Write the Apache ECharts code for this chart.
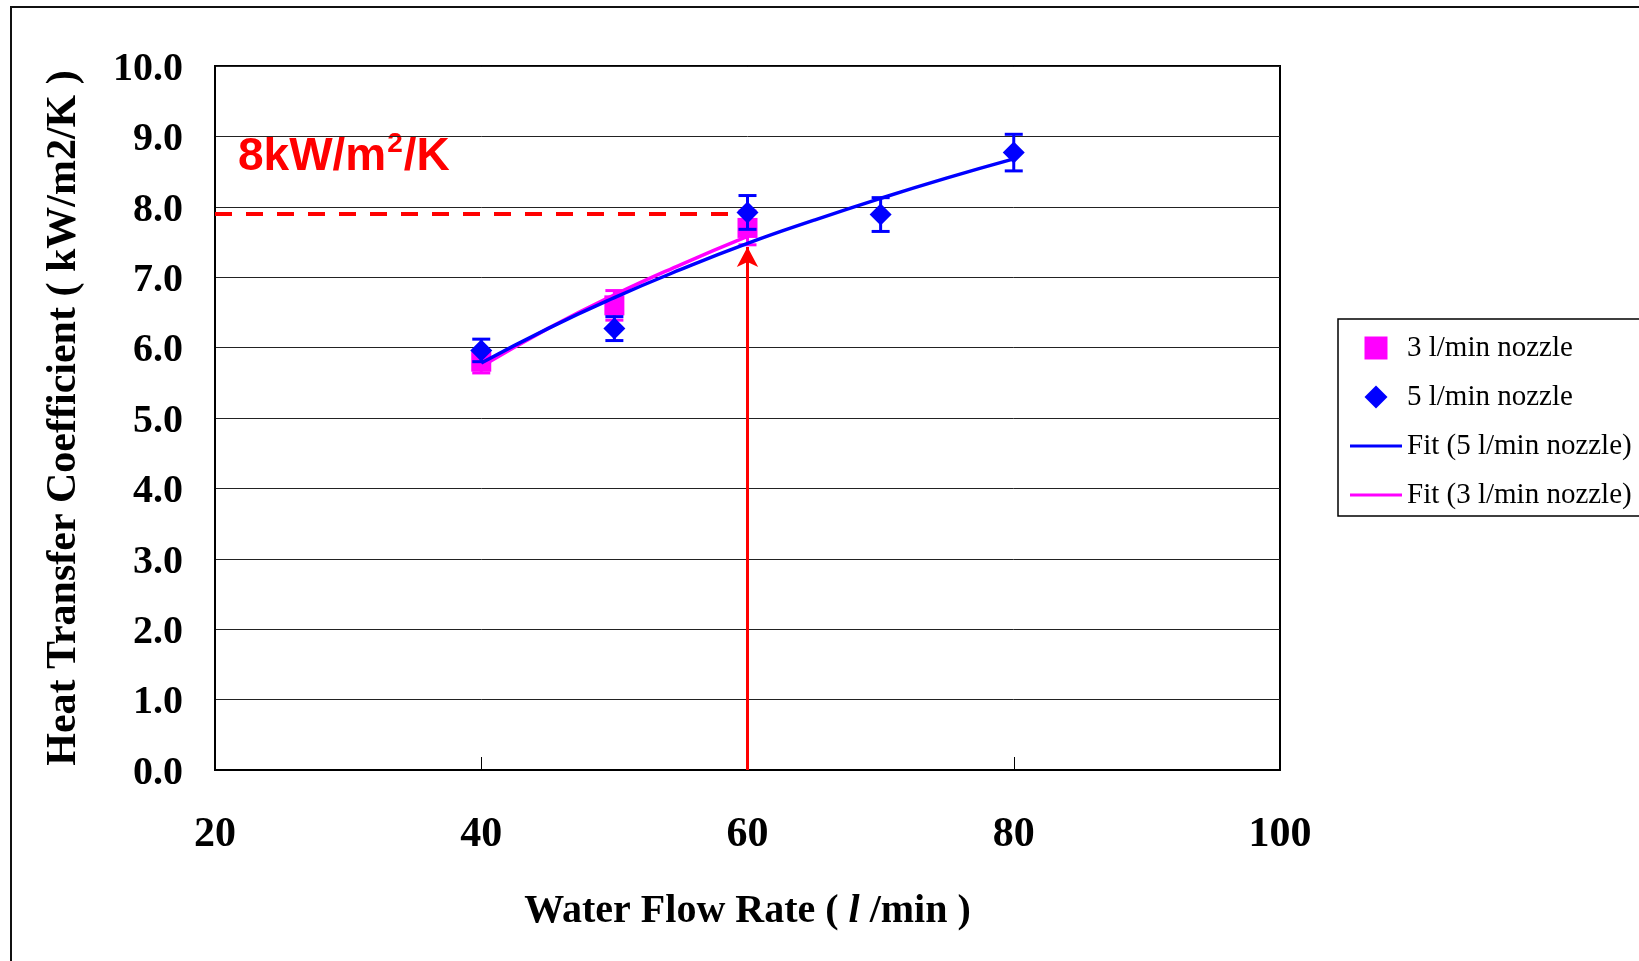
<!DOCTYPE html>
<html>
<head>
<meta charset="utf-8">
<title>Heat Transfer Coefficient vs Water Flow Rate</title>
<script src="https://cdn.jsdelivr.net/npm/echarts@6/dist/echarts.min.js"></script>
<style>
  html, body { margin: 0; padding: 0; background: #fff; }
  #chart { width: 1639px; height: 961px; }
</style>
</head>
<body>
<div id="chart"></div>
<script>
// measured points (kW/m2/K) with error bar half-heights
const flow3 = [40, 50, 60];
const htc3 = [5.80, 6.60, 7.70];
const err3 = [0.16, 0.21, 0.24];

const flow5 = [40, 50, 60, 70, 80];
const htc5 = [5.96, 6.27, 7.92, 7.89, 8.77];
const err5 = [0.16, 0.17, 0.24, 0.24, 0.26];

// fitted curves
const fitFlow5 = [40, 45, 50, 55, 60, 65, 70, 75, 80];
const fitHtc5 = [5.78, 6.27, 6.71, 7.11, 7.48, 7.81, 8.12, 8.41, 8.68];
const fitFlow3 = [40, 45, 50, 55, 60];
const fitHtc3 = [5.73, 6.27, 6.75, 7.18, 7.58];

// 8 kW/m2/K target marker
const targetHtc = 7.9;
const targetFlow = 60;
const dashEndFlow = 59;
const arrowTipHtc = 7.43;

const xTicks = [20, 40, 60, 80, 100];

const MAGENTA = '#ff00ff';
const BLUE = '#0000ff';
const RED = '#ff0000';
const SERIF = '"Liberation Serif", "Times New Roman", serif';
const SANS = '"Liberation Sans", Arial, sans-serif';

const chart = echarts.init(document.getElementById('chart'));

const errorBars = (color) => (params, api) => {
  const x = api.value(0);
  const y = api.value(1);
  const e = api.value(2);
  const top = api.coord([x, y + e]);
  const bot = api.coord([x, y - e]);
  const half = 9;
  const style = { stroke: color, lineWidth: 3 };
  return {
    type: 'group',
    children: [
      { type: 'line', shape: { x1: top[0], y1: top[1], x2: bot[0], y2: bot[1] }, style },
      { type: 'line', shape: { x1: top[0] - half, y1: top[1], x2: top[0] + half, y2: top[1] }, style },
      { type: 'line', shape: { x1: bot[0] - half, y1: bot[1], x2: bot[0] + half, y2: bot[1] }, style }
    ]
  };
};

// legend icons as paths so they keep their aspect
const lineIcon = 'path://M0,0L50,0L50,3L0,3Z';
const squareIcon = 'path://M2,2L20,2L20,20L2,20Z';
const diamondIcon = 'path://M11,0L22,11L11,22L0,11Z';

const option = {
  backgroundColor: '#fff',
  animation: false,
  grid: {
    left: 215,
    top: 66,
    right: 359,
    bottom: 191,
    show: true,
    borderColor: '#000',
    borderWidth: 2
  },
  legend: {
    orient: 'vertical',
    left: 1338,
    top: 319,
    padding: [14, 30, 6, 12],
    itemGap: 19,
    itemWidth: 52,
    itemHeight: 23,
    borderColor: '#000',
    borderWidth: 1.5,
    selectedMode: false,
    textStyle: {
      fontFamily: SERIF,
      fontSize: 29,
      color: '#000',
      lineHeight: 30
    },
    data: [
      { name: '3 l/min nozzle', icon: squareIcon },
      { name: '5 l/min nozzle', icon: diamondIcon },
      { name: 'Fit (5 l/min nozzle)', icon: lineIcon },
      { name: 'Fit (3 l/min nozzle)', icon: lineIcon }
    ]
  },
  xAxis: {
    type: 'value',
    min: xTicks[0],
    max: xTicks[xTicks.length - 1],
    interval: 20,
    name: '{a|Water Flow Rate ( }{i|l}{a| /min )}',
    nameLocation: 'middle',
    nameGap: 122,
    nameTextStyle: {
      fontFamily: SERIF,
      fontWeight: 'bold',
      fontSize: 40,
      color: '#000',
      rich: {
        a: { fontFamily: SERIF, fontWeight: 'bold', fontSize: 40, color: '#000' },
        i: { fontFamily: SERIF, fontWeight: 'bold', fontStyle: 'italic', fontSize: 40, color: '#000' }
      }
    },
    axisLine: { show: true, lineStyle: { color: '#000', width: 2 } },
    axisTick: { show: true, inside: true, length: 13, lineStyle: { color: '#000', width: 1 } },
    axisLabel: {
      margin: 44,
      fontFamily: SERIF,
      fontWeight: 'bold',
      fontSize: 42,
      color: '#000'
    },
    splitLine: { show: false }
  },
  yAxis: {
    type: 'value',
    min: 0,
    max: 10,
    interval: 1,
    name: 'Heat Transfer Coefficient ( kW/m2/K )',
    nameLocation: 'middle',
    nameGap: 130,
    nameTextStyle: {
      fontFamily: SERIF,
      fontWeight: 'bold',
      fontSize: 42,
      color: '#000'
    },
    axisLine: { show: true, lineStyle: { color: '#000', width: 2 } },
    axisTick: { show: false },
    axisLabel: {
      margin: 32,
      color: '#000',
      formatter: (v) => '{v|' + v.toFixed(1) + '}',
      rich: {
        v: { fontFamily: SERIF, fontWeight: 'bold', fontSize: 40, color: '#000', padding: [7, 0, 0, 0] }
      }
    },
    splitLine: { show: true, lineStyle: { color: '#222', width: 1 } }
  },
  graphic: [
    {
      type: 'rect',
      silent: true,
      shape: { x: 11, y: 7, width: 1700, height: 1000 },
      style: { fill: 'none', stroke: '#111', lineWidth: 2 }
    },
    {
      type: 'text',
      left: 238,
      top: 130,
      style: {
        text: '{a|8kW/m}{s|2}{a|/K}',
        rich: {
          a: { fontFamily: SANS, fontWeight: 'bold', fontSize: 46, fill: RED, lineHeight: 50, verticalAlign: 'bottom' },
          s: { fontFamily: SANS, fontWeight: 'bold', fontSize: 28, fill: RED, lineHeight: 50, verticalAlign: 'top', padding: [0, 1, 14, 1] }
        }
      }
    }
  ],
  series: [
    {
      name: '3 l/min nozzle err',
      type: 'custom',
      renderItem: errorBars(MAGENTA),
      encode: { x: 0, y: 1 },
      data: flow3.map((x, i) => [x, htc3[i], err3[i]]),
      z: 2
    },
    {
      name: '3 l/min nozzle',
      type: 'scatter',
      symbol: 'rect',
      symbolSize: 20,
      itemStyle: { color: MAGENTA, opacity: 1 },
      data: flow3.map((x, i) => [x, htc3[i]]),
      z: 3
    },
    {
      name: '5 l/min nozzle err',
      type: 'custom',
      renderItem: errorBars(BLUE),
      encode: { x: 0, y: 1 },
      data: flow5.map((x, i) => [x, htc5[i], err5[i]]),
      z: 4
    },
    {
      name: '5 l/min nozzle',
      type: 'scatter',
      symbol: 'diamond',
      symbolSize: 22,
      itemStyle: { color: BLUE, opacity: 1 },
      data: flow5.map((x, i) => [x, htc5[i]]),
      z: 5
    },
    {
      name: 'Fit (3 l/min nozzle)',
      type: 'line',
      smooth: true,
      symbol: 'none',
      showSymbol: false,
      color: MAGENTA,
      lineStyle: { color: MAGENTA, width: 3.5 },
      data: fitFlow3.map((x, i) => [x, fitHtc3[i]]),
      z: 6
    },
    {
      name: 'Fit (5 l/min nozzle)',
      type: 'line',
      smooth: true,
      symbol: 'none',
      showSymbol: false,
      color: BLUE,
      lineStyle: { color: BLUE, width: 3.5 },
      data: fitFlow5.map((x, i) => [x, fitHtc5[i]]),
      z: 7,
      markLine: {
        silent: true,
        animation: false,
        label: { show: false },
        emphasis: { disabled: true },
        data: [
          [
            { coord: [xTicks[0], targetHtc], symbol: 'none', lineStyle: { color: RED, width: 4, type: [17, 14] } },
            { coord: [dashEndFlow, targetHtc], symbol: 'none' }
          ],
          [
            { coord: [targetFlow, 0], symbol: 'none', lineStyle: { color: RED, width: 3, type: 'solid' } },
            { coord: [targetFlow, arrowTipHtc], symbol: 'arrow', symbolSize: [16, 20] }
          ]
        ]
      }
    }
  ]
};

chart.setOption(option);

window.addEventListener('resize', () => chart.resize());
</script>
</body>
</html>
